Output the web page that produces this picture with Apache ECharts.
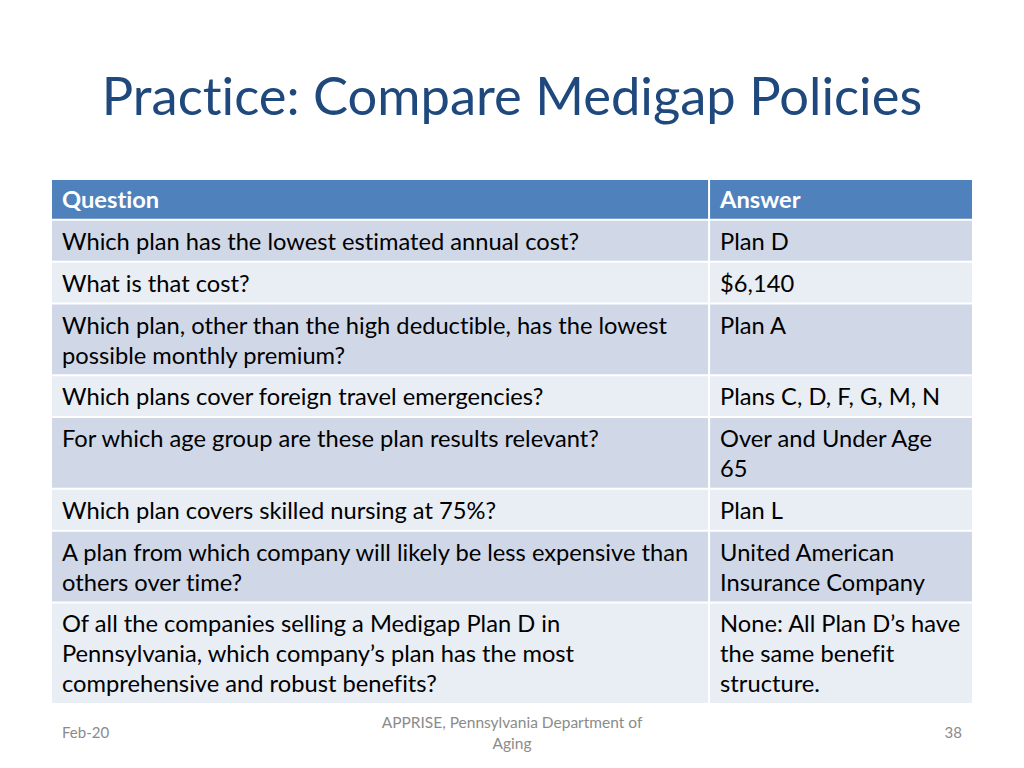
<!DOCTYPE html>
<html>
<head>
<meta charset="utf-8">
<script src="https://cdn.jsdelivr.net/npm/echarts@6/dist/echarts.min.js"></script>
<style>
  html, body { margin: 0; padding: 0; background: #ffffff; }
  #chart { width: 1024px; height: 768px; }
  #chart text, #chart svg { font-variant-ligatures: none; font-feature-settings: "liga" 0, "dlig" 0, "clig" 0; }
</style>
</head>
<body>
<div id="chart"></div>
<script>
const titleText = 'Practice: Compare Medigap Policies';
const headers = ['Question', 'Answer'];
const questions = [
  'Which plan has the lowest estimated annual cost?',
  'What is that cost?',
  'Which plan, other than the high deductible, has the lowest\npossible monthly premium?',
  'Which plans cover foreign travel emergencies?',
  'For which age group are these plan results relevant?',
  'Which plan covers skilled nursing at 75%?',
  'A plan from which company will likely be less expensive than\nothers over time?',
  'Of all the companies selling a Medigap Plan D in\nPennsylvania, which company\u2019s plan has the most\ncomprehensive and robust benefits?'
];
const answers = [
  'Plan D',
  '$6,140',
  'Plan A',
  'Plans C, D, F, G, M, N',
  'Over and Under Age\n65',
  'Plan L',
  'United American\nInsurance Company',
  'None: All Plan D\u2019s have\nthe same benefit\nstructure.'
];
const footerLeft = 'Feb-20';
const footerCenter = 'APPRISE, Pennsylvania Department of\nAging';
const footerRight = '38';

// Build table rows (header + body)
const rows = [headers].concat(questions.map((q, i) => [q, answers[i]]));
const LINE = 30, PAD = 10, HEADER_H = 39, GAP = 2;
const rowTop = [], rowBottom = [];
let acc = 0;
rows.forEach((r, i) => {
  const lines = Math.max(r[0].split('\n').length, r[1].split('\n').length);
  const h = i === 0 ? HEADER_H : PAD + LINE * lines;
  rowTop.push(acc);
  rowBottom.push(acc + h);
  acc += h + GAP;
});
const total = acc - GAP;
const colEdges = [0, 0.7142, 1];

const cells = [];
rows.forEach((r, ri) => { r.forEach((t, ci) => cells.push([ci, ri])); });

const chart = echarts.init(document.getElementById('chart'), null, { renderer: 'svg' });
chart.setOption({
  animation: false,
  backgroundColor: '#ffffff',
  title: {
    text: titleText,
    left: 'center',
    top: 63,
    textStyle: { fontFamily: 'Lato', fontWeight: 'normal', fontSize: 52.5, color: '#1F497D' }
  },
  grid: { left: 52, right: 52, top: 180, bottom: 65 },
  xAxis: { type: 'value', min: 0, max: 1, show: false },
  yAxis: { type: 'value', min: 0, max: total, inverse: true, show: false },
  series: [{
    type: 'custom',
    coordinateSystem: 'cartesian2d',
    data: cells,
    renderItem: function (params, api) {
      const ci = api.value(0), ri = api.value(1);
      const p0 = api.coord([colEdges[ci], rowTop[ri]]);
      const p1 = api.coord([colEdges[ci + 1], rowBottom[ri]]);
      const isHeader = ri === 0;
      const fill = isHeader ? '#4F81BD' : (ri % 2 === 1 ? '#D0D8E8' : '#E9EDF4');
      const x0 = ci === 0 ? p0[0] : p0[0] + 1;
      const x1 = ci === 0 ? p1[0] - 1 : p1[0];
      return {
        type: 'group',
        children: [
          { type: 'rect', shape: { x: x0, y: p0[1], width: x1 - x0, height: p1[1] - p0[1] }, style: { fill: fill } },
          { type: 'text', style: {
              x: x0 + 10, y: p0[1] + (isHeader ? 4 : 5),
              text: rows[ri][ci],
              fill: isHeader ? '#ffffff' : '#000000',
              fontFamily: 'Lato', fontSize: 23.7, fontWeight: isHeader ? 'bold' : 'normal',
              lineHeight: 30, verticalAlign: 'top', align: 'left'
          } }
        ]
      };
    }
  }],
  graphic: [
    { type: 'text', x: 62, y: 724, style: { text: footerLeft, fill: '#8B8B8B', font: '15px Lato' } },
    { type: 'text', x: 512, y: 711, style: { text: footerCenter, fill: '#8B8B8B', font: '15.5px Lato', align: 'center', lineHeight: 21 } },
    { type: 'text', x: 962, y: 724, style: { text: footerRight, fill: '#8B8B8B', font: '15px Lato', align: 'right' } }
  ]
});
</script>
</body>
</html>
